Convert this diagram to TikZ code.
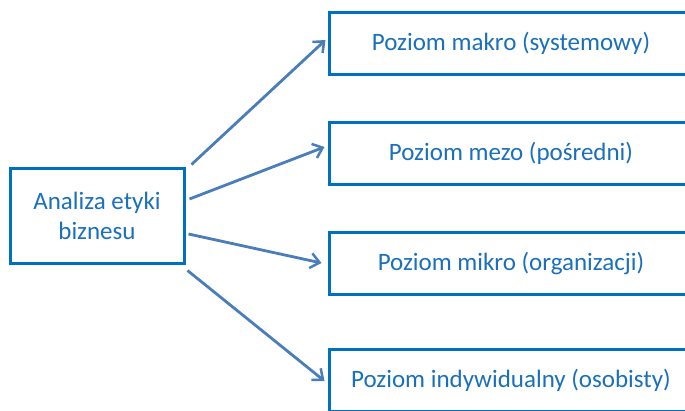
\documentclass[tikz,border=0pt]{standalone}
\usepackage{fontspec}
\setmainfont{Carlito}
\usetikzlibrary{arrows.meta,calc}
\definecolor{boxblue}{HTML}{0070C0}
\definecolor{txtblue}{HTML}{1A70BC}
\definecolor{arrblue}{HTML}{4A7EBB}
\begin{document}
\begin{tikzpicture}[x=1pt,y=-1pt,
  box/.style={draw=boxblue, line width=3pt, fill=white, text=txtblue,
    font=\fontsize{25}{30}\selectfont, align=center, inner sep=0pt},
  lvl/.style={box, minimum width=364pt, minimum height=62pt},
  conn/.style={draw=arrblue, line width=2.8pt, -{Straight Barb[length=9pt,width=15pt,line width=2.5pt]}}]
\useasboundingbox (0,0) rectangle (685,410);
\node[box, minimum width=174pt, minimum height=95pt] (L) at (97,215.5) {Analiza etyki\\biznesu};
\node[lvl] (R1) at (511,43) {Poziom makro (systemowy)};
\node[lvl] (R2) at (511,153) {Poziom mezo (pośredni)};
\node[lvl] (R3) at (511,263) {Poziom mikro (organizacji)};
\node[lvl] (R4) at (511,380.5) {Poziom indywidualny (osobisty)};
\draw[conn] ([shift={(6,-2)}]L.north east) -- ([shift={(-2,-3)}]R1.west);
\draw[conn] ([shift={(4,-16.5)}]L.east) -- ([shift={(-3,-6)}]R2.west);
\draw[conn] ([shift={(3,18.5)}]L.east) -- ([shift={(-6,0)}]R3.west);
\draw[conn] ([shift={(2,6)}]L.south east) -- ([shift={(-3,0.5)}]R4.west);
\end{tikzpicture}
\end{document}
